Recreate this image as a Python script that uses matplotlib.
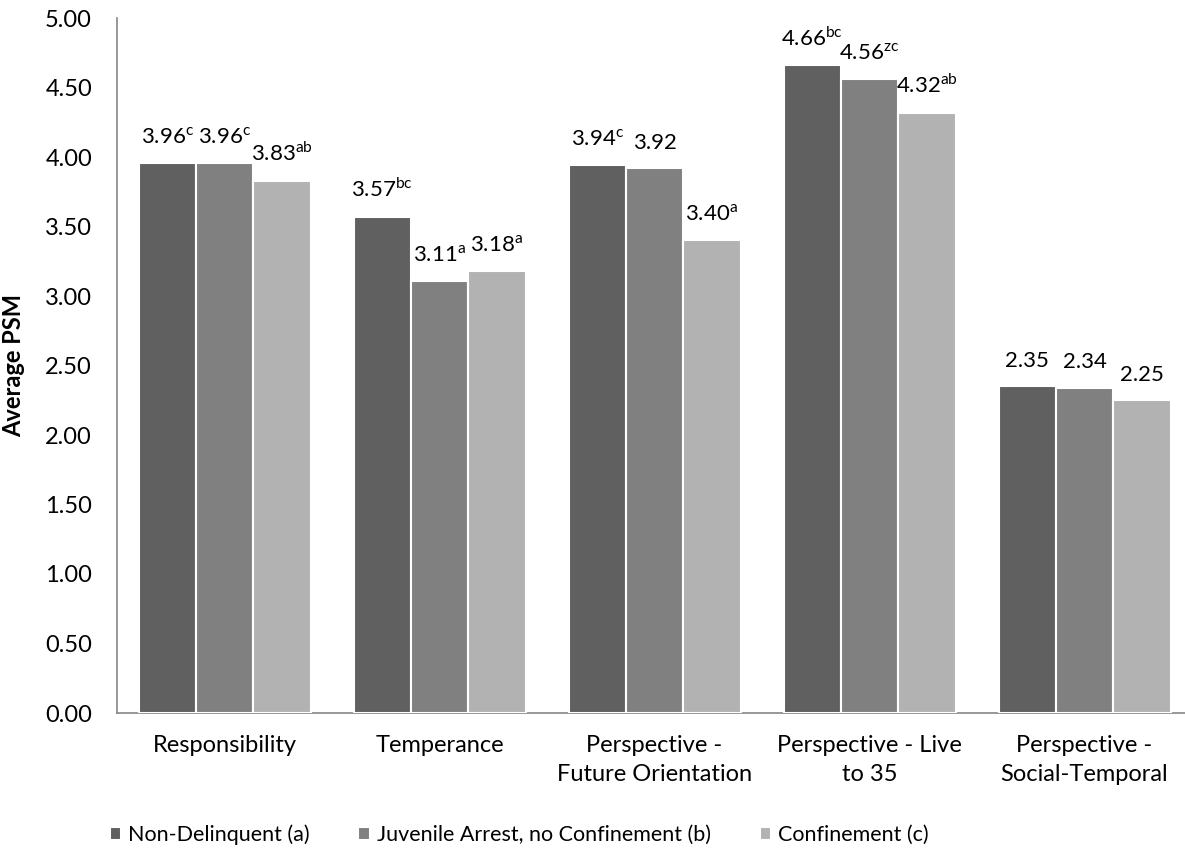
import numpy as np
import matplotlib.pyplot as plt

plt.rcParams['font.family'] = ['Lato', 'DejaVu Sans']

categories = ['Responsibility', 'Temperance', 'Perspective -\nFuture Orientation',
              'Perspective - Live\nto 35', 'Perspective -\nSocial-Temporal']
series = ['Non-Delinquent (a)', 'Juvenile Arrest, no Confinement (b)', 'Confinement (c)']
non_delinquent = [3.96, 3.57, 3.94, 4.66, 2.35]
juvenile_arrest = [3.96, 3.11, 3.92, 4.56, 2.34]
confinement = [3.83, 3.18, 3.40, 4.32, 2.25]
sup_a = ['c', 'bc', 'c', 'bc', '']
sup_b = ['c', 'a', '', 'zc', '']
sup_c = ['ab', 'a', 'a', 'ab', '']
colors = ['#606060', '#808080', '#b2b2b2']

fig = plt.figure(figsize=(11.85, 8.52), dpi=100)
ax = fig.add_axes([117/1185, 1 - 713/852, 1075/1185, 695/852])

x = np.arange(len(categories))
w = 0.8 / 3
values = [non_delinquent, juvenile_arrest, confinement]
sups = [sup_a, sup_b, sup_c]
for i in range(3):
    xs = x + (i - 1) * w
    ax.bar(xs, values[i], width=w, color=colors[i], edgecolor='white',
           linewidth=1.5, label=series[i], zorder=3)
    for xx, v, s in zip(xs, values[i], sups[i]):
        txt = '%.2f' % v
        if s:
            txt += r'$^{\mathregular{%s}}$' % s
        ax.text(xx, v + 0.11, txt, ha='center', va='bottom', fontsize=16)

ax.set_xlim(-0.5, len(categories) - 0.5)
ax.set_ylim(0, 5)
ax.set_yticks(np.arange(0, 5.01, 0.5))
ax.set_yticklabels(['%.2f' % t for t in np.arange(0, 5.01, 0.5)], fontsize=17)
ax.set_xticks(x)
ax.set_xticklabels(categories, fontsize=17, linespacing=1.45)
ax.tick_params(length=0)
ax.tick_params(axis='x', pad=16)
ax.tick_params(axis='y', pad=18)
ax.set_ylabel('Average PSM', fontsize=17, fontweight='bold')
ax.yaxis.set_label_coords(-92/1075, 0.5)
for sp in ['top', 'right']:
    ax.spines[sp].set_visible(False)
ax.spines['left'].set_color('#868686')
ax.spines['bottom'].set_color('#868686')
ax.spines['left'].set_linewidth(1.2)
ax.spines['bottom'].set_linewidth(1.2)

ax.legend(loc='center', bbox_to_anchor=(0.374, -0.175),
          ncol=3, frameon=False, fontsize=15.5, handlelength=0.55, handleheight=0.55,
          handletextpad=0.3, columnspacing=2.27)

fig.savefig('out.png', dpi=100)
